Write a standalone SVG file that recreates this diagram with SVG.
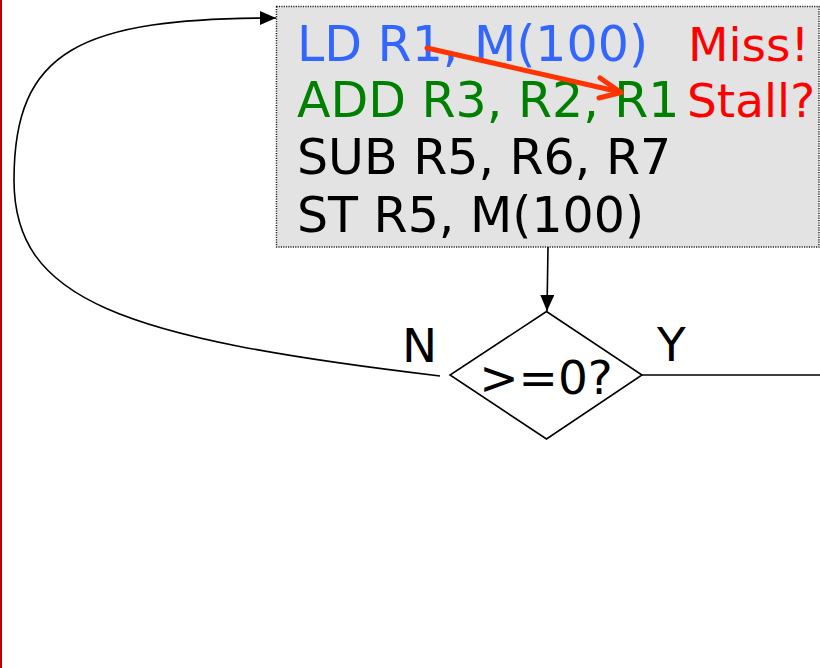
<svg xmlns="http://www.w3.org/2000/svg" width="820" height="668" viewBox="0 0 820 668">
  <defs>
    <style>
      .t { font-family: "DejaVu Sans", Verdana, sans-serif; font-size: 49px; }
      .note { font-family: "DejaVu Sans", Verdana, sans-serif; font-size: 47px; fill: #ff0000; }
      .lbl { font-family: "DejaVu Sans", Verdana, sans-serif; font-size: 47px; fill: #000; }
      .edge { fill: none; stroke: #000; stroke-width: 1.6; }
    </style>
    <marker id="arrow" viewBox="0 0 16 14" refX="16" refY="7" markerWidth="16" markerHeight="14" markerUnits="userSpaceOnUse" orient="auto">
      <path d="M0,0 L16,7 L0,14 Z" fill="#000"/>
    </marker>
  </defs>

  <rect width="820" height="668" fill="#fff"/>
  <!-- slide border on the left -->
  <line x1="1" y1="0" x2="1" y2="668" stroke="#c00000" stroke-width="2"/>

  <!-- instruction block -->
  <g id="block">
    <rect x="276.5" y="6.5" width="542.5" height="240.5" fill="#e3e3e3" stroke="#222" stroke-width="1.4" stroke-dasharray="1.2 1.2"/>
    <text class="t" x="297" y="61" fill="#3366ff">LD R1, M(100)</text>
    <text class="t" x="297" y="117" fill="#008000">ADD R3, R2, R1</text>
    <text class="t" x="297" y="174" fill="#000">SUB R5, R6, R7</text>
    <text class="t" x="297" y="232" fill="#000">ST R5, M(100)</text>
    <text class="note" x="688" y="61">Miss!</text>
    <text class="note" x="687" y="117">Stall?</text>
  </g>

  <!-- dependency arrow from the load to its consumer -->
  <g id="dependency" fill="none" stroke="#ff3300" stroke-width="5" stroke-linecap="round" stroke-linejoin="round">
    <line x1="427" y1="48" x2="620" y2="92"/>
    <polyline points="600,78 621,92.5 599,98"/>
  </g>

  <!-- decision -->
  <g id="decision">
    <polygon points="546.5,311.5 642,375 546.5,439 450,375" fill="#fff" stroke="#000" stroke-width="1.6"/>
    <text class="lbl" x="546" y="394" text-anchor="middle" font-size="46">&gt;=0?</text>
  </g>

  <!-- connectors -->
  <g id="connectors">
    <line class="edge" x1="548" y1="247" x2="547" y2="311" marker-end="url(#arrow)"/>
    <path class="edge" d="M440,376 C120,338 14,300 14,180 C14,50 80,18 276,18" marker-end="url(#arrow)"/>
    <line class="edge" x1="642" y1="375" x2="820" y2="375"/>
    <text class="lbl" x="402" y="362">N</text>
    <text class="lbl" x="657" y="361">Y</text>
  </g>
</svg>
